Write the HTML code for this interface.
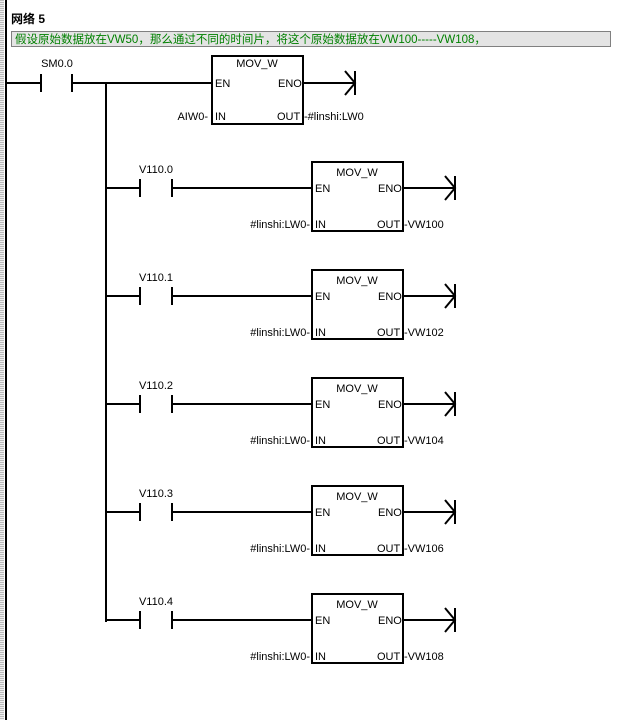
<!DOCTYPE html>
<html><head><meta charset="utf-8"><style>
body{margin:0;width:636px;height:720px;background:#fff;overflow:hidden;position:relative}
.strip{position:absolute;left:0;top:0;width:4px;height:720px;background:repeating-linear-gradient(#bbb 0 1px,#eee 1px 2px)}
text{font-family:"Liberation Sans","Noto Sans CJK SC",sans-serif;font-size:11px;fill:#000}
</style></head><body>
<div class="strip"></div>
<svg width="636" height="720" style="position:absolute;left:0;top:0">
<rect x="5" y="0" width="2" height="720" fill="#000"/>
<text x="11" y="23" style="font-weight:bold;font-size:12px">网络 5</text>
<rect x="11.5" y="31.5" width="599" height="15" fill="#e4e4e4" stroke="#808080"/>
<text x="15" y="43" style="fill:#008000;font-size:11.5px">假设原始数据放在VW50，那么通过不同的时间片，将这个原始数据放在VW100-----VW108，</text>
<g stroke="#000" stroke-width="2" fill="none">
<line x1="6" y1="83" x2="41" y2="83"/><line x1="41" y1="74" x2="41" y2="92"/><line x1="72" y1="74" x2="72" y2="92"/>
<line x1="72" y1="83" x2="212" y2="83"/>
<line x1="106" y1="83" x2="106" y2="622"/>
<rect x="212" y="56" width="91" height="68"/>
<line x1="303" y1="83" x2="355" y2="83"/><polyline points="345,71 355,83 345,95"/><line x1="355" y1="71" x2="355" y2="95"/>
</g>
<text x="57" y="67" text-anchor="middle">SM0.0</text>
<text x="257" y="67" text-anchor="middle">MOV_W</text>
<text x="215" y="87">EN</text><text x="278" y="87">ENO</text>
<text x="215" y="120">IN</text><text x="277" y="120">OUT</text>
<text x="208" y="120" text-anchor="end">AIW0-</text>
<text x="304" y="120">-#linshi:LW0</text>
<g id="rungs"></g>
</svg>
<script>
var g=document.getElementById('rungs'),h='';
[[188,'V110.0','VW100'],[296,'V110.1','VW102'],[404,'V110.2','VW104'],[512,'V110.3','VW106'],[620,'V110.4','VW108']].forEach(function(r){
var y=r[0];
h+='<g stroke="#000" stroke-width="2" fill="none">'+
'<line x1="106" y1="'+y+'" x2="140" y2="'+y+'"/><line x1="140" y1="'+(y-9)+'" x2="140" y2="'+(y+9)+'"/><line x1="172" y1="'+(y-9)+'" x2="172" y2="'+(y+9)+'"/>'+
'<line x1="172" y1="'+y+'" x2="312" y2="'+y+'"/><rect x="312" y="'+(y-26)+'" width="91" height="69"/>'+
'<line x1="403" y1="'+y+'" x2="455" y2="'+y+'"/><polyline points="445,'+(y-12)+' 455,'+y+' 445,'+(y+12)+'"/><line x1="455" y1="'+(y-12)+'" x2="455" y2="'+(y+12)+'"/></g>'+
'<text x="156" y="'+(y-15)+'" text-anchor="middle">'+r[1]+'</text>'+
'<text x="357" y="'+(y-12)+'" text-anchor="middle">MOV_W</text>'+
'<text x="315" y="'+(y+4)+'">EN</text><text x="378" y="'+(y+4)+'">ENO</text>'+
'<text x="315" y="'+(y+40)+'">IN</text><text x="377" y="'+(y+40)+'">OUT</text>'+
'<text x="310" y="'+(y+40)+'" text-anchor="end">#linshi:LW0-</text>'+
'<text x="404" y="'+(y+40)+'">-'+r[2]+'</text>';
});
g.innerHTML=h;
</script>
</body></html>
